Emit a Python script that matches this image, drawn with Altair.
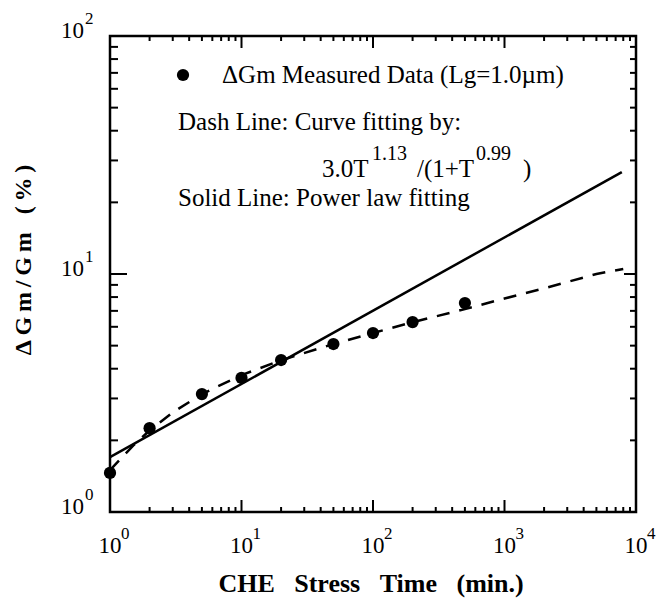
import altair as alt
import pandas as pd

# ---- data ----
stress_time = [1, 2, 5, 10, 20, 50, 100, 200, 500]
delta_gm = [1.46, 2.25, 3.13, 3.66, 4.35, 5.08, 5.65, 6.28, 7.55]

dash_time = [1, 1.5, 2, 3, 5, 10, 20, 50, 100, 200, 500, 1000, 2000, 5000, 8000]
dash_gm = [1.50, 1.90, 2.20, 2.62, 3.13, 3.76, 4.34, 5.08, 5.65, 6.27, 7.12, 7.89, 8.70, 10.0, 10.5]

solid_time = [1, 7800]
solid_gm = [1.70, 26.8]

x_decades = [1, 10, 100, 1000, 10000]
x_exponents = ["0", "1", "2", "3", "4"]
y_decades = [1, 10, 100]
y_exponents = ["0", "1", "2"]
x_minor = [m * d for d in [1, 10, 100, 1000] for m in range(2, 10)]
y_minor = [m * d for d in [1, 10] for m in range(2, 10)]

W, H = 526, 476
FONT = "Liberation Serif"

xs = alt.Scale(type="log", domain=[1, 10000], nice=False)
ys = alt.Scale(type="log", domain=[1, 100], nice=False)

pts = pd.DataFrame({"t": stress_time, "g": delta_gm})
dash = pd.DataFrame({"t": dash_time, "g": dash_gm})
solid = pd.DataFrame({"t": solid_time, "g": solid_gm})
xmaj = pd.DataFrame({"t": x_decades, "e": x_exponents, "b": ["10"] * len(x_decades)})
ymaj = pd.DataFrame({"g": y_decades, "e": y_exponents, "b": ["10"] * len(y_decades)})
xmin = pd.DataFrame({"t": x_minor})
ymin = pd.DataFrame({"g": y_minor})

X = alt.X("t:Q", scale=xs, axis=None)
Y = alt.Y("g:Q", scale=ys, axis=None)

points = alt.Chart(pts).mark_circle(size=150, color="black", opacity=1).encode(x=X, y=Y)
dash_line = alt.Chart(dash).mark_line(color="black", strokeWidth=2.5, strokeDash=[13, 10]).encode(x=X, y=Y)
solid_line = alt.Chart(solid).mark_line(color="black", strokeWidth=2.5).encode(x=X, y=Y)

def rule(df, enc):
    return alt.Chart(df).mark_rule(color="black", strokeWidth=2).encode(**enc)

ticks = [
    rule(xmaj, dict(x=X, y=alt.value(H), y2=alt.value(H - 12))),
    rule(xmin, dict(x=X, y=alt.value(H), y2=alt.value(H - 5))),
    rule(xmaj, dict(x=X, y=alt.value(0), y2=alt.value(12))),
    rule(xmin, dict(x=X, y=alt.value(0), y2=alt.value(5))),
    rule(ymaj, dict(y=Y, x=alt.value(0), x2=alt.value(17))),
    rule(ymin, dict(y=Y, x=alt.value(0), x2=alt.value(8))),
    rule(ymaj, dict(y=Y, x=alt.value(W), x2=alt.value(W - 12))),
    rule(ymin, dict(y=Y, x=alt.value(W), x2=alt.value(W - 6))),
]

xlab_base = alt.Chart(xmaj).mark_text(font=FONT, fontSize=23, align="center", baseline="middle").encode(
    x=X, y=alt.value(H + 34), text="b:N")
xlab_exp = alt.Chart(xmaj).mark_text(font=FONT, fontSize=17, align="left", baseline="middle", dx=11).encode(
    x=X, y=alt.value(H + 22), text="e:N")
ylab_base = alt.Chart(ymaj).mark_text(font=FONT, fontSize=23, align="right", baseline="middle", dy=-5).encode(
    y=Y, x=alt.value(-26), text="b:N")
ylab_exp = alt.Chart(ymaj).mark_text(font=FONT, fontSize=17, align="left", baseline="middle", dy=-17).encode(
    y=Y, x=alt.value(-25), text="e:N")

one = alt.Data(values=[{"k": 0}])

def txt(s, x, y, size=25, weight="normal", angle=0, align="left", baseline="alphabetic"):
    props = dict(font=FONT, fontSize=size, fontWeight=weight, align=align, baseline=baseline, color="black")
    if angle:
        props["angle"] = angle
    return alt.Chart(one).mark_text(**props).encode(
        x=alt.value(x), y=alt.value(y), text=alt.value(s))

bullet = alt.Chart(one).mark_circle(size=150, color="black", opacity=1).encode(
    x=alt.value(73), y=alt.value(39))

TS = "\u2009"
annotations = [
    bullet,
    txt("\u0394Gm Measured Data (Lg=1.0\u00b5m)", 112, 47),
    txt("Dash Line: Curve fitting by:", 68, 94),
    txt("3.0T", 212, 141),
    txt("1.13", 262, 124, size=20),
    txt("/(1+T", 307, 141),
    txt("0.99", 366, 124, size=20),
    txt(")", 413, 141),
    txt("Solid Line: Power law fitting", 68, 170),
    txt("CHE\u00a0\u00a0\u00a0Stress\u00a0\u00a0\u00a0Time\u00a0\u00a0\u00a0(min.)", W / 2 - 2, H + 72, size=26,
        weight="bold", align="center", baseline="middle"),
    txt("\u0394" + TS + "G" + TS + "m" + TS + "/" + TS + "G" + TS + "m\u00a0\u00a0\u00a0(" + TS + "%" + TS + ")",
        -86, 224, size=24, weight="bold", angle=270, align="center", baseline="middle"),
]

chart = alt.layer(
    dash_line, solid_line, points, *ticks, xlab_base, xlab_exp, ylab_base, ylab_exp, *annotations
).properties(
    width=W, height=H,
    autosize=alt.AutoSizeParams(type="none"),
    padding={"left": 110, "top": 36, "right": 24, "bottom": 86},
).configure_view(stroke="black", strokeWidth=2.5)

chart.save("out.html", embed_options={"renderer": "svg", "actions": False})
